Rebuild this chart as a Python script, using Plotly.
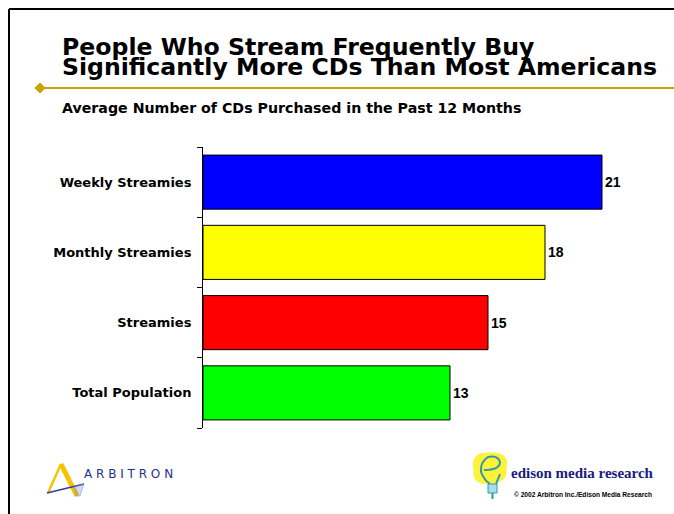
import plotly.graph_objects as go

categories = ["Weekly Streamies", "Monthly Streamies", "Streamies", "Total Population"]
values = [21, 18, 15, 13]
bar_colors = ["#0000FF", "#FFFF00", "#FF0000", "#00FF00"]
value_labels = ["21", "18", "15", "13"]

W, H = 674, 514
L, R, T, B = 203, 15, 147, 86
PW, PH = W - L - R, H - T - B


def px(x):
    return (x - L) / PW


def py(y):
    return (H - B - y) / PH


FONT = "Arial, Liberation Sans, sans-serif"
WIDE = "DejaVu Sans, Verdana, sans-serif"

fig = go.Figure()
fig.add_trace(go.Bar(
    y=categories, x=values, orientation="h",
    marker=dict(color=bar_colors, line=dict(color="#000000", width=1)),
    width=0.77,
    text=value_labels, textposition="outside", cliponaxis=False,
    textfont=dict(family=FONT, size=14, color="#000000"),
    texttemplate="<b>%{text}</b>",
    hoverinfo="skip",
))

shapes = [
    # slide frame
    dict(type="line", xref="paper", yref="paper", x0=px(9), x1=px(W + 5), y0=py(9), y1=py(9),
         line=dict(color="#000000", width=2)),
    dict(type="line", xref="paper", yref="paper", x0=px(9), x1=px(9), y0=py(9), y1=py(H + 5),
         line=dict(color="#000000", width=2)),
    # gold rule
    dict(type="line", xref="paper", yref="paper", x0=px(40), x1=px(W + 5), y0=py(88), y1=py(88),
         line=dict(color="#C9A400", width=2)),
    dict(type="path", xref="paper", yref="paper",
         path="M {} {} L {} {} L {} {} L {} {} Z".format(px(35), py(88), px(40), py(83), px(45), py(88), px(40), py(93)),
         fillcolor="#C9A400", line=dict(color="#C9A400", width=1)),
    # Arbitron logo mark
    dict(type="line", xref="paper", yref="paper", x0=px(48), x1=px(61), y0=py(493), y1=py(464),
         line=dict(color="#F5C400", width=2.5)),
    dict(type="line", xref="paper", yref="paper", x0=px(61), x1=px(77), y0=py(464), y1=py(496),
         line=dict(color="#F5C400", width=5)),
    dict(type="line", xref="paper", yref="paper", x0=px(47), x1=px(84), y0=py(493), y1=py(484),
         line=dict(color="#2A3FA0", width=1.5)),
    dict(type="path", xref="paper", yref="paper",
         path="M {} {} L {} {} L {} {} L {} {} Z".format(px(74), py(487), px(84), py(484), px(80), py(496), px(76), py(496)),
         fillcolor="rgba(120,140,210,0.35)", line=dict(color="#8090D0", width=0.5)),
    # Edison bulb
    dict(type="path", xref="paper", yref="paper",
         path="M {} {} Q {} {} {} {} Q {} {} {} {} Q {} {} {} {} Q {} {} {} {} Z".format(
             px(474), py(470), px(470), py(452), px(490), py(453),
             px(510), py(452), px(506), py(468),
             px(508), py(482), px(492), py(483),
             px(472), py(486), px(474), py(470)),
         fillcolor="#FFF23A", line=dict(color="#FFF23A", width=1)),
    dict(type="path", xref="paper", yref="paper",
         path="M {} {} Q {} {} {} {} Q {} {} {} {} Q {} {} {} {} Q {} {} {} {}".format(
             px(484), py(470), px(500), py(470), px(500), py(462),
             px(498), py(455), px(488), py(457),
             px(480), py(462), px(481), py(472),
             px(484), py(480), px(490), py(484)),
         line=dict(color="#2B9AA8", width=2)),
    dict(type="line", xref="paper", yref="paper", x0=px(496), x1=px(500), y0=py(484), y1=py(474),
         line=dict(color="#2B9AA8", width=2)),
    dict(type="rect", xref="paper", yref="paper", x0=px(488), x1=px(497), y0=py(484), y1=py(493),
         fillcolor="#A8DDE8", line=dict(color="#2B9AA8", width=1)),
    dict(type="line", xref="paper", yref="paper", x0=px(492.5), x1=px(492.5), y0=py(493), y1=py(499),
         line=dict(color="#2B9AA8", width=2)),
]

annotations = [
    dict(text="<b>People Who Stream Frequently Buy</b>", x=px(60), y=py(46.5), xanchor="left", yanchor="middle",
         font=dict(family=WIDE, size=23.6, color="#000000")),
    dict(text="<b>Significantly More CDs Than Most Americans</b>", x=px(60), y=py(66.5), xanchor="left",
         yanchor="middle", font=dict(family=WIDE, size=23.6, color="#000000")),
    dict(text="<b>Average Number of CDs Purchased in the Past 12 Months</b>", x=px(60), y=py(107.5),
         xanchor="left", yanchor="middle", font=dict(family=WIDE, size=14.2, color="#000000")),
    dict(text="A R B I T R O N", x=px(82), y=py(473.5), xanchor="left", yanchor="middle",
         font=dict(family=WIDE, size=12, color="#1F2F8F")),
    dict(text="<b>edison media research</b>", x=px(509), y=py(473), xanchor="left", yanchor="middle",
         font=dict(family="Liberation Serif, Times New Roman, serif", size=15, color="#1A1A80")),
    dict(text="<b>© 2002 Arbitron Inc./Edison Media Research</b>", x=px(512), y=py(494), xanchor="left",
         yanchor="middle", font=dict(family=FONT, size=6.6, color="#000000")),
]
for a in annotations:
    a.update(xref="paper", yref="paper", showarrow=False)

fig.update_layout(
    width=W, height=H,
    margin=dict(l=L, r=R, t=T, b=B, pad=0),
    paper_bgcolor="#FFFFFF", plot_bgcolor="#FFFFFF",
    showlegend=False, bargap=0.23,
    shapes=shapes, annotations=annotations,
    xaxis=dict(range=[0, 24], visible=False, fixedrange=True),
    yaxis=dict(autorange="reversed", categoryorder="array", categoryarray=categories,
               showline=True, linecolor="#000000", linewidth=1,
               ticks="outside", tickson="boundaries", ticklen=5, tickcolor="#000000",
               tickfont=dict(family=WIDE, size=13, color="#000000"),
               showgrid=False, zeroline=False, ticklabelstandoff=8, fixedrange=True),
)
fig.update_yaxes(ticktext=["<b>%s</b>" % c for c in categories], tickvals=categories)

fig.write_html("out.html", config={"displayModeBar": False},
               post_script="document.body.style.margin='0px';")
